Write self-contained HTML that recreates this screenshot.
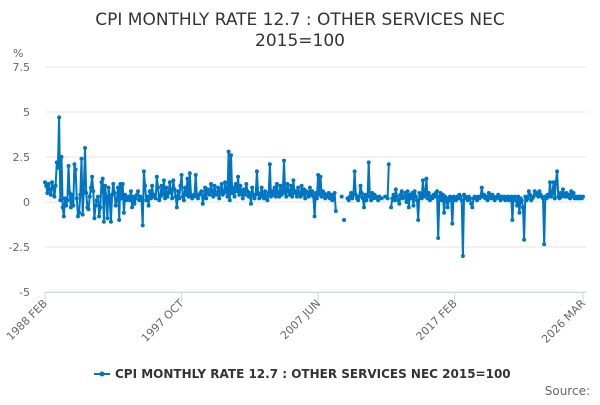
<!DOCTYPE html>
<html><head><meta charset="utf-8"><style>
body{margin:0;background:#fff;font-family:"Liberation Sans","DejaVu Sans",sans-serif}
svg text{font-family:"DejaVu Sans","Liberation Sans",sans-serif}
</style></head><body>
<svg id="c" width="600" height="400"></svg>
<script>
const startYear=1988, startMonth=2;
const yTicks=[7.5,5,2.5,0,-2.5,-5];
const yTickLabels=["7.5","5","2.5","0","-2.5","-5"];
const xTickIdx=[0,116,232,348,457];
const xTickLabels=["1988 FEB","1997 OCT","2007 JUN","2017 FEB","2026 MAR"];
const values=[
1.1,0.9,0.5,1.0,0.7,0.4,1.1,0.8,0.3,0.9,2.2,
1.9,4.7,0.1,2.5,-0.3,-0.8,0.2,-0.2,0.1,2.0,0.5,-0.3,
0.4,-0.2,2.1,1.8,0.2,-0.8,-0.6,0.4,2.4,-0.7,0.6,3.0,
0.5,-0.3,-0.4,0.3,0.8,1.4,0.6,-0.9,-0.2,0.1,0.3,-0.8,
-0.3,1.1,1.3,-1.1,0.9,0.3,-0.9,0.8,0.2,-1.1,0.4,1.0,
0.5,-0.2,0.1,0.8,-1.0,1.0,0.2,1.0,-0.6,0.4,0.1,0.2,
0.3,0.1,0.6,-0.3,0.3,-0.1,0.2,0.4,0.6,0.1,0.3,0.2,
-1.3,1.7,0.9,0.1,0.3,-0.2,0.6,0.2,0.9,0.3,0.4,0.2,
1.4,0.8,0.1,0.3,0.9,0.4,1.2,0.2,0.8,0.3,0.5,1.1,
0.6,0.2,1.2,0.7,0.3,-0.3,0.6,0.2,0.9,1.5,0.3,0.1,
0.8,0.4,1.3,0.3,1.6,0.4,0.2,0.3,0.4,1.5,0.3,0.2,
0.4,0.5,0.6,-0.1,0.3,0.8,0.2,0.7,0.5,0.4,1.0,0.6,
0.3,0.9,0.5,0.4,0.8,0.2,0.6,1.0,0.4,0.5,1.1,0.7,
0.3,2.8,0.1,2.6,0.5,0.8,0.3,1.0,0.6,1.4,0.4,0.9,
0.5,0.2,0.7,0.4,1.0,0.6,0.3,0.5,-0.1,0.8,0.4,0.2,
0.4,1.7,0.5,0.2,0.3,0.8,0.4,0.2,0.6,0.3,0.1,0.5,
2.1,0.3,0.6,0.4,0.8,0.3,1.0,0.5,0.3,0.9,0.4,0.6,
2.3,0.5,0.3,1.0,0.6,0.4,0.9,0.3,1.2,0.5,0.6,0.3,
0.8,0.5,0.3,0.9,0.4,0.7,0.2,0.6,0.5,0.3,0.8,0.4,
0.6,0.3,-0.8,0.5,0.2,1.5,0.4,1.4,0.3,0.6,0.5,0.2,
0.4,0.3,0.5,0.2,0.4,0.1,0.3,0.5,-0.5,null,null,null,
null,0.3,null,-1.0,null,null,0.2,0.1,0.3,0.5,0.2,0.4,
1.7,0.4,0.2,0.1,0.3,0.9,0.5,0.2,-0.3,0.4,0.1,0.3,
2.2,0.3,0.1,0.5,0.2,0.4,0.3,0.2,0.1,0.3,null,0.2,
null,null,0.3,null,0.2,2.1,null,-0.3,0.2,0.4,0.1,0.7,
0.3,0.1,-0.1,0.4,0.6,0.2,0.3,0.5,0.0,0.6,-0.3,0.4,
0.2,0.5,-0.2,0.6,0.3,0.1,-1.0,0.5,0.3,0.2,1.2,0.3,
0.4,1.3,0.2,0.5,0.1,0.3,0.2,0.4,0.3,0.5,0.6,-2.0,
0.3,0.5,0.1,0.4,-0.6,0.3,0.2,-0.3,0.1,0.3,0.2,-1.2,
0.3,0.2,0.1,0.3,0.2,0.4,0.3,0.1,-3.0,0.4,0.3,0.2,
0.1,0.3,0.2,-0.1,-0.3,0.2,0.3,0.2,0.1,0.3,0.2,0.3,
0.8,0.3,0.4,0.2,0.3,0.1,0.5,0.3,0.2,0.4,0.3,0.1,
0.2,0.3,0.4,0.2,0.1,0.3,0.2,0.3,0.1,0.2,0.3,0.1,
0.2,0.3,-1.0,0.2,0.3,0.1,-0.2,0.3,-0.6,0.2,0.1,-0.3,
-2.1,0.3,0.1,0.2,0.6,0.4,0.1,0.2,0.3,0.6,0.5,0.4,
0.3,0.6,0.4,0.3,0.2,-2.35,0.3,0.2,0.4,0.3,1.1,0.3,
0.5,1.1,0.2,1.1,1.7,0.3,0.2,0.5,0.3,0.7,0.4,0.3,
0.5,0.3,0.4,0.2,0.6,0.3,0.5,0.2,0.3,0.2,0.3,0.2,
0.3,0.2,0.3];
const svg=document.getElementById('c');
const NS='http://www.w3.org/2000/svg';
const X0=45,X1=583,Y0=202,PPU=18;
const N=458;
function xs(i){return X0+i*(X1-X0)/(N-1);}
function ys(v){return Y0-v*PPU;}
function mk(t,a,txt){const e=document.createElementNS(NS,t);for(const k in a)e.setAttribute(k,a[k]);if(txt!==undefined)e.textContent=txt;svg.appendChild(e);return e;}
let e;
e=mk('text',{x:300,y:25,'text-anchor':'middle','font-size':17,fill:'#333'},'CPI MONTHLY RATE 12.7 : OTHER SERVICES NEC');


e=mk('text',{x:300,y:46,'text-anchor':'middle','font-size':17,fill:'#333'},'2015=100');


e=mk('text',{x:13,y:57,'font-size':11,fill:'#666'},'%');


yTicks.forEach((v,k)=>{
 const g=mk('line',{x1:X0,x2:X1+3,y1:ys(v),y2:ys(v),stroke:'#e6e6e6','stroke-width':1});
 
 
 const t=mk('text',{x:30,y:ys(v)+4,'text-anchor':'end','font-size':11,fill:'#666'},yTickLabels[k]);
 
 
});
e=mk('line',{x1:X0,x2:X1+3,y1:292.5,y2:292.5,stroke:'#ccd6eb','stroke-width':1});


xTickIdx.forEach((idx,k)=>{
 const x=xs(idx);
 const tk=mk('line',{x1:x,x2:x,y1:292,y2:302,stroke:'#ccd6eb'});
 
 
 const t=mk('text',{x:x+3,y:304,'text-anchor':'end','font-size':11,fill:'#666',transform:`rotate(-45 ${x+3} 304)`},xTickLabels[k]);
 
 
});
let d='',pen=false;
values.forEach((v,i)=>{if(v===null){pen=false;return;}d+=(pen?'L':'M')+xs(i).toFixed(1)+' '+ys(v).toFixed(1);pen=true;});
e=mk('path',{d:d,fill:'none',stroke:'#0075c2','stroke-width':2,'stroke-linejoin':'round'});


values.forEach((v,i)=>{if(v===null)return;
 const p=mk('circle',{cx:xs(i),cy:ys(v),r:2,fill:'#0075c2'});
 
 
});
e=mk('line',{x1:94,x2:110,y1:374,y2:374,stroke:'#0075c2','stroke-width':2});


e=mk('circle',{cx:102,cy:374,r:2.5,fill:'#0075c2'});


e=mk('text',{x:115,y:378,'font-size':12,'font-weight':'bold',fill:'#333'},'CPI MONTHLY RATE 12.7 : OTHER SERVICES NEC 2015=100');


e=mk('text',{x:590,y:395,'text-anchor':'end','font-size':12,fill:'#666'},'Source:');


</script>
</body></html>
